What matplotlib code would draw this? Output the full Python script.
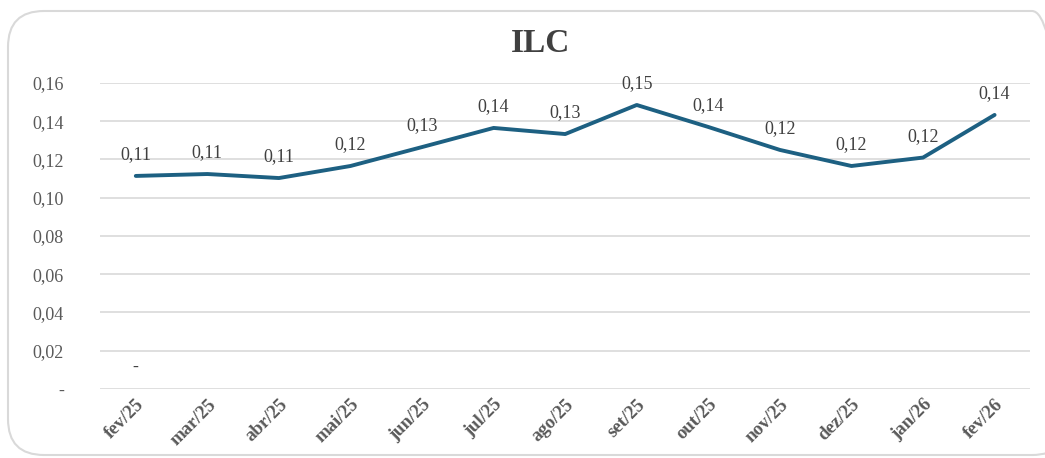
import matplotlib
matplotlib.use("Agg")
import matplotlib.pyplot as plt
from matplotlib.patches import FancyBboxPatch
from matplotlib.transforms import IdentityTransform
from matplotlib.ticker import FuncFormatter

months = ["fev/25", "mar/25", "abr/25", "mai/25", "jun/25", "jul/25", "ago/25",
          "set/25", "out/25", "nov/25", "dez/25", "jan/26", "fev/26"]
ilc = [0.1114, 0.1124, 0.1103, 0.1166, 0.1265, 0.1365, 0.1333,
       0.1485, 0.1370, 0.1250, 0.1166, 0.1210, 0.1433]
labels = ["0,11", "0,11", "0,11", "0,12", "0,13", "0,14", "0,13",
          "0,15", "0,14", "0,12", "0,12", "0,12", "0,14"]
yticks = [0, 0.02, 0.04, 0.06, 0.08, 0.10, 0.12, 0.14, 0.16]

plt.rcParams['font.family'] = ['Liberation Serif', 'DejaVu Serif']

fig = plt.figure(figsize=(10.45, 4.58), dpi=100)
border = FancyBboxPatch((8, 3), 1060, 444, transform=IdentityTransform(),
                        boxstyle="round,pad=0,rounding_size=36",
                        facecolor="none", edgecolor="#d9d9d9", linewidth=1.5,
                        zorder=-1)
fig.patches.append(border)

ax = fig.add_axes([0.0957, 0.1507, 0.8903, 0.6681])
ax.set_facecolor("none")
x = list(range(len(months)))
ax.plot(x, ilc, color="#1d6082", linewidth=2.8, solid_capstyle="round",
        solid_joinstyle="round", zorder=3)

for xi, yi, lab in zip(x, ilc, labels):
    ax.annotate(lab, (xi, yi), xytext=(0, 9), textcoords="offset points",
                ha="center", va="bottom", fontsize=13, color="#404040")
ax.text(0, 0.0115, "-", ha="center", va="center", fontsize=13, color="#404040")

ax.set_xlim(-0.5, len(months) - 0.5)
ax.set_ylim(0, 0.16)
ax.set_yticks(yticks)
ax.yaxis.set_major_formatter(FuncFormatter(
    lambda v, p: "-" if abs(v) < 1e-9 else f"{v:.2f}".replace(".", ",")))
ax.grid(axis="y", color="#d9d9d9", linewidth=1.2)
ax.set_axisbelow(True)
for s in ax.spines.values():
    s.set_visible(False)
ax.tick_params(axis="both", length=0)
ax.tick_params(axis="y", labelsize=13, labelcolor="#595959", pad=26)
ax.set_xticks(x)
ax.set_xticklabels(months, rotation=45, ha="right", rotation_mode="anchor",
                   fontsize=13.5, fontweight="bold", color="#595959")
ax.tick_params(axis="x", pad=5)

fig.text(0.517, 0.905, "ILC", ha="center", va="center", fontsize=24,
         fontweight="bold", color="#404040")

fig.savefig("out.png", dpi=100)
